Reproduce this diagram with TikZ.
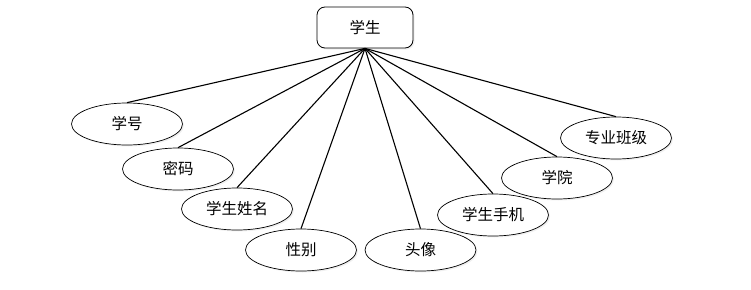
\documentclass[tikz,border=0pt]{standalone}
\usepackage{fontspec}
\setmainfont{Noto Sans CJK SC}
\usepackage{tikz}
\usetikzlibrary{shapes.geometric, positioning, shadows}
\tikzset{
    link/.style={line width=1.1pt, black}
}

\begin{document}
\begin{tikzpicture}[
    x=1pt, y=-1pt,
    entitybox/.style={rectangle, draw, line width=0.8pt, rounded corners=8pt, fill=white, minimum width=96pt, minimum height=41pt, font=\fontsize{15.5}{18}\selectfont, drop shadow={opacity=0.12, shadow xshift=1.5pt, shadow yshift=-1.5pt}},
    attrbox/.style={ellipse, draw, fill=white, line width=0.7pt, minimum width=111pt, minimum height=42pt, inner sep=0pt, font=\fontsize{15.5}{18}\selectfont, drop shadow={opacity=0.12, shadow xshift=1.5pt, shadow yshift=-1.5pt}}
]
    \useasboundingbox (0,0) rectangle (751,289);

    % Entity
    \node (student) [entitybox] at (365,27.5) {学生};

    % Attributes
    \node (sno)    [attrbox] at (127,124) {学号};
    \node (pwd)    [attrbox] at (178,169) {密码};
    \node (sname)  [attrbox] at (237,209) {学生姓名};
    \node (gender) [attrbox] at (301,250) {性别};
    \node (avatar) [attrbox] at (420.5,250) {头像};
    \node (phone)  [attrbox] at (493,215) {学生手机};
    \node (school) [attrbox] at (557,178) {学院};
    \node (major)  [attrbox] at (616,138) {专业班级};

    % Links
    \foreach \a in {sno, pwd, sname, gender, avatar, phone, school, major}
        \draw [link] (student.south) -- (\a.north);

\end{tikzpicture}
\end{document}
